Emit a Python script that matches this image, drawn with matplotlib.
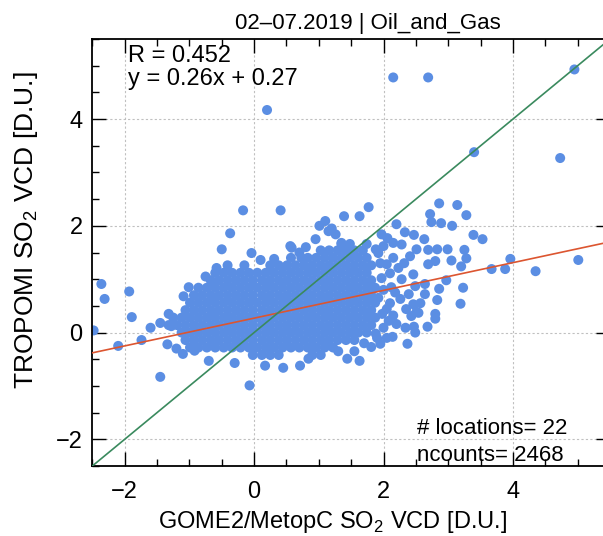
import numpy as np
import matplotlib
matplotlib.use('Agg')
import matplotlib.pyplot as plt

plt.rcParams['font.family'] = ['Liberation Sans', 'DejaVu Sans']
plt.rcParams['mathtext.fontset'] = 'custom'
plt.rcParams['mathtext.rm'] = 'Liberation Sans'

# dense core of the cloud, one list of x per row
core_y = [-0.42, -0.28, -0.14, 0.0, 0.14, 0.28, 0.42, 0.56, 0.70, 0.84, 0.98, 1.12, 1.26, 1.40, 1.54, 1.66]
core_x = [
    [-0.02, 0.12, 0.25, 0.38, 0.9, 1.03],
    [-0.99, -0.86, -0.73, -0.6, -0.47, -0.34, -0.21, -0.08, 0.05, 0.18, 0.31, 0.44, 0.57, 0.7, 0.83, 0.96, 1.09, 1.22],
    [-1.06, -0.93, -0.8, -0.67, -0.54, -0.41, -0.28, -0.15, -0.02, 0.12, 0.25, 0.38, 0.51, 0.64, 0.77, 0.9, 1.03, 1.16, 1.29, 1.42, 1.55],
    [-1.12, -0.99, -0.86, -0.73, -0.6, -0.47, -0.34, -0.21, -0.08, 0.05, 0.18, 0.31, 0.44, 0.57, 0.7, 0.83, 0.96, 1.09, 1.22, 1.35, 1.48, 1.61, 1.74],
    [-1.32, -1.19, -1.06, -0.93, -0.8, -0.67, -0.54, -0.41, -0.28, -0.15, -0.02, 0.12, 0.25, 0.38, 0.51, 0.64, 0.77, 0.9, 1.03, 1.16, 1.29, 1.42, 1.55, 1.68, 1.81],
    [-1.25, -1.12, -0.99, -0.86, -0.73, -0.6, -0.47, -0.34, -0.21, -0.08, 0.05, 0.18, 0.31, 0.44, 0.57, 0.7, 0.83, 0.96, 1.09, 1.22, 1.35, 1.48, 1.61, 1.74, 1.87],
    [-1.06, -0.93, -0.8, -0.67, -0.54, -0.41, -0.28, -0.15, -0.02, 0.12, 0.25, 0.38, 0.51, 0.64, 0.77, 0.9, 1.03, 1.16, 1.29, 1.42, 1.55, 1.68, 1.81],
    [-0.99, -0.86, -0.73, -0.6, -0.47, -0.34, -0.21, -0.08, 0.05, 0.18, 0.31, 0.44, 0.57, 0.7, 0.83, 0.96, 1.09, 1.22, 1.35, 1.48, 1.61, 1.74, 1.87],
    [-0.93, -0.8, -0.67, -0.54, -0.41, -0.28, -0.15, -0.02, 0.12, 0.25, 0.38, 0.51, 0.64, 0.77, 0.9, 1.03, 1.16, 1.29, 1.42, 1.55, 1.68, 1.81],
    [-0.86, -0.73, -0.6, -0.47, -0.34, -0.21, -0.08, 0.05, 0.18, 0.31, 0.44, 0.57, 0.7, 0.83, 0.96, 1.09, 1.22, 1.35, 1.48, 1.61, 1.74, 1.87],
    [-0.67, -0.54, -0.41, -0.28, -0.15, -0.02, 0.12, 0.25, 0.38, 0.51, 0.64, 0.77, 0.9, 1.03, 1.16, 1.29, 1.42, 1.55, 1.68, 1.81],
    [-0.6, -0.47, -0.34, -0.21, -0.08, 0.05, 0.18, 0.31, 0.44, 0.57, 0.7, 0.83, 0.96, 1.09, 1.22, 1.35, 1.48, 1.61, 1.74],
    [-0.41, -0.15, 0.25, 0.38, 0.51, 0.64, 0.77, 0.9, 1.03, 1.16, 1.29, 1.42, 1.55, 1.68, 1.81],
    [0.57, 0.83, 0.96, 1.09, 1.22, 1.35, 1.48, 1.61, 1.74],
    [1.03, 1.16, 1.29, 1.42, 1.55, 1.68],
    [1.35, 1.48, 1.74],
]

# scattered points around the core
fringe_x = [-2.36, -2.31, -2.48, -2.1, -1.93, -1.89, -1.74, -1.6, -1.45, -1.32, -1.34, -1.45, -1.28, -1.2,
            -1.1, -1.01, -1.09, -0.92, -0.7, -0.3, -0.07, 0.17, 0.45, 0.71, 0.84, -0.17, 0.41, -0.37, -0.5,
            -0.04, 0.1, 0.31, -0.58, -0.75, 1.39, 1.1, 1.01, 1.26, 0.58, 0.8, 0.95, 1.2, 0.7, 1.15, 1.35, 0.56, 0.73,
            1.77, 1.63, 2.86, 3.14, 3.28, 2.72, 2.74, 2.89, 3.06, 3.39, 3.53, 2.2, 2.33, 2.47, 2.63, 2.15, 2.28,
            2.69, 2.83, 2.99, 3.25, 3.28, 3.05, 3.2, 2.8, 2.69, 2.97, 3.23, 2.86, 3.19, 2.83, 2.8, 2.8, 2.68,
            2.64, 2.49, 2.49, 2.47, 2.37, 2.14, 2.34, 1.95, 1.81, 1.88, 1.63, 1.44, 2.54, 2.57, 2.64, 2.46, 2.41,
            2.51, 2.32, 2.23, 2.28, 2.39, 2.26, 2.46, 2.35, 2.43, 2.51, 2.05, 2.08, 2.2, 2.0, 1.92, 1.97, 2.05,
            2.1, 1.92, 2.0, 1.88, 2.06, 1.97, 3.67, 3.88, 3.96, 4.35, 5.01, 2.12, 2.18, 2.0, 2.15, 1.95, 2.1,
            1.98, 2.15, 1.9, 2.05, 1.7, 1.55, 1.3]
fringe_y = [0.91, 0.63, 0.04, -0.25, 0.77, 0.29, -0.14, 0.09, -0.83, 0.35, -0.22, 0.18, 0.12, -0.3,
            -0.4, 0.85, 0.68, -0.34, -0.53, -0.57, -0.99, -0.62, -0.66, -0.62, -0.49, 2.29, 2.29, 1.86, 1.56,
            1.49, 1.36, 1.38, 1.21, 1.05, 2.18, 2.09, 2.0, 1.84, 1.59, 1.6, 1.75, 1.95, 1.5, 1.9, 1.68, 1.62, 1.4,
            2.35, 2.18, 2.42, 2.39, 2.2, 2.22, 2.07, 2.05, 2.0, 1.83, 1.75, 2.03, 1.88, 1.83, 1.75, 1.68, 1.65,
            1.55, 1.56, 1.56, 1.55, 1.39, 1.35, 1.24, 1.34, 1.28, 0.98, 0.84, 0.82, 0.54, 0.61, 0.35, 0.26, 0.11,
            0.91, 0.87, 0.0, 0.11, -0.21, -0.08, 0.09, -0.21, -0.27, -0.02, -0.53, -0.49, 0.37, 0.55, 0.72, 1.09, 1.43,
            1.56, 1.3, 1.21, 1.0, 0.72, 0.63, 0.53, 0.44, 0.31, 0.39, 0.44, 0.22, 0.16, 0.09, 0.65, 1.02, 1.28,
            1.11, 1.49, 1.62, 1.56, 1.77, 1.84, 1.19, 1.19, 1.38, 1.15, 1.36, 0.85, 0.75, 0.8, 1.4, 1.3, 0.55,
            0.35, 0.32, -0.1, -0.1, -0.2, -0.35, -0.35]

# far outliers
outlier_x = [0.2, 2.15, 2.69, 4.95, 3.4, 4.73]
outlier_y = [4.17, 4.78, 4.78, 4.93, 3.38, 3.27]

r_value = 0.452
slope = 0.26
intercept = 0.27
n_locations = 22
n_counts = 2468
title = '02\u201307.2019 | Oil_and_Gas'

xs = [x for row in core_x for x in row] + fringe_x + outlier_x
ys = [y for y, row in zip(core_y, core_x) for x in row] + fringe_y + outlier_y

fig = plt.figure(figsize=(6.03, 5.36), dpi=100)
ax = fig.add_axes([0.1531, 0.1306, 0.8585, 0.7966])

ax.scatter(xs, ys, s=52, color='#5b8ee3', edgecolors='none', zorder=2)

xline = np.array([-2.5, 5.5])
ax.plot(xline, slope * xline + intercept, color='#dc5530', lw=1.2, zorder=3)
ax.plot(xline, xline, color='#3a8a5e', lw=1.2, zorder=3)

ax.set_xlim(-2.5, 5.5)
ax.set_ylim(-2.5, 5.5)
ax.set_xticks([-2, 0, 2, 4])
ax.set_yticks([-2, 0, 2, 4])
ax.set_xticks(np.arange(-2.5, 5.6, 0.5), minor=True)
ax.set_yticks(np.arange(-2.5, 5.6, 0.5), minor=True)
ax.set_xticklabels(['\u22122', '0', '2', '4'])
ax.set_yticklabels(['\u22122', '0', '2', '4'])
ax.tick_params(which='both', direction='in', top=True, right=True, width=1.0, labelsize=17)
ax.tick_params(axis='x', which='major', length=10, pad=11)
ax.tick_params(axis='y', which='major', length=10, pad=7)
ax.tick_params(which='minor', length=5)
ax.grid(True, which='major', color='#c0c0c0', lw=0.8, ls=(0, (2, 2)), zorder=1)
for sp in ax.spines.values():
    sp.set_linewidth(1.3)

ax.set_xlabel('GOME2/MetopC SO$_2$ VCD [D.U.]', fontsize=17)
ax.set_ylabel('TROPOMI SO$_2$ VCD [D.U.]', fontsize=19)
ax.xaxis.set_label_coords(0.465, -0.1)
ax.yaxis.set_label_coords(-0.102, 0.553)

fig.text(0.61, 0.956, title, fontsize=16, ha='center', va='center')
ax.text(0.068, 0.985, 'R = %.3f' % r_value, transform=ax.transAxes, fontsize=17, va='top')
ax.text(0.068, 0.932, 'y = %.2fx + %.2f' % (slope, intercept), transform=ax.transAxes, fontsize=17, va='top')
ax.text(0.627, 0.088, '# locations= %d' % n_locations, transform=ax.transAxes, fontsize=16, va='center')
ax.text(0.627, 0.024, 'ncounts= %d' % n_counts, transform=ax.transAxes, fontsize=16, va='center')

fig.savefig('out.png', dpi=100)
